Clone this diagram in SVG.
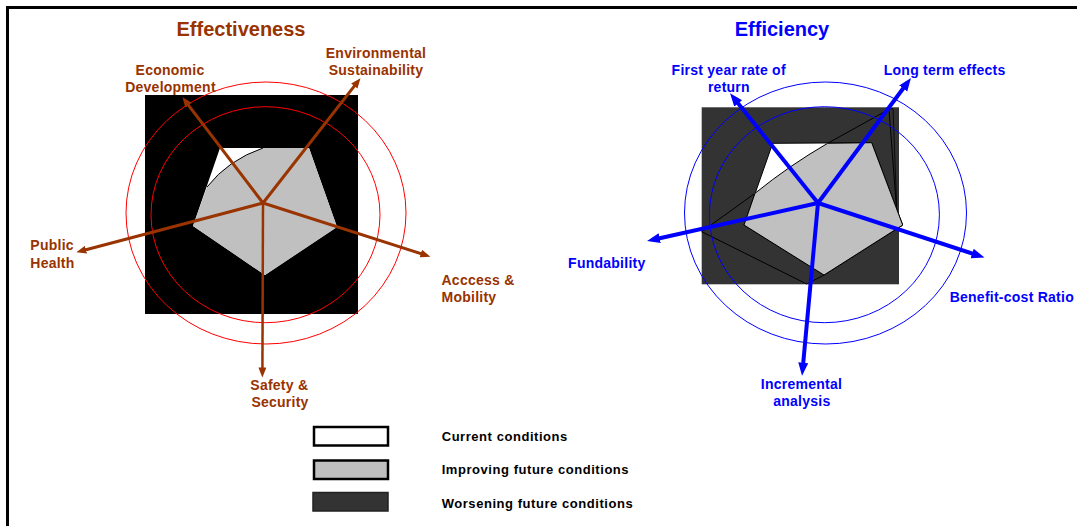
<svg xmlns="http://www.w3.org/2000/svg" width="1077" height="526" viewBox="0 0 1077 526">
<defs>
<style>
.t{font-family:"Liberation Sans",Arial,sans-serif;font-weight:bold}
.br{fill:#993300;font-size:14px;letter-spacing:0.25px}
.bl{fill:#0000ff;font-size:14px;letter-spacing:0.25px}
.ttl{font-size:20px}
.lg{fill:#000;font-size:13px;letter-spacing:0.55px}
.ax1{stroke:#993300;stroke-width:3;fill:none;marker-end:url(#ah1)}
.ax2{stroke:#0000ff;stroke-width:4;fill:none;marker-end:url(#ah2)}
.rc{fill:none;stroke:#ff0000;stroke-width:1}
.bc{fill:none;stroke:#0000ff;stroke-width:1}
.edge{stroke:#000;stroke-width:1}
</style>
<marker id="ah1" markerUnits="userSpaceOnUse" markerWidth="11" markerHeight="9" refX="5" refY="4" orient="auto" viewBox="0 0 11 9"><path d="M0,0 L10,4 L0,8 z" fill="#993300"/></marker>
<marker id="ah2" markerUnits="userSpaceOnUse" markerWidth="14" markerHeight="11" refX="7" refY="5" orient="auto" viewBox="0 0 14 11"><path d="M0,0 L13,5 L0,10 z" fill="#0000ff"/></marker>
</defs>
<rect x="0" y="0" width="1077" height="526" fill="#fff"/>
<rect x="7.5" y="7.5" width="1100" height="600" fill="none" stroke="#000" stroke-width="3"/>

<g id="effectiveness-chart">
<text class="t ttl" x="241" y="36" text-anchor="middle" fill="#993300">Effectiveness</text>
<rect x="145" y="95" width="213" height="219" fill="#000"/>
<polygon points="220,148 309,148 337,227 265,275 193,226" fill="#fff"/>
<path d="M263,148 L309,148 L337,227 L265,275 L193,226 L207,187 Q228,160 263,148 z" fill="#c0c0c0"/>
<path d="M207,187 Q228,160 263,148" class="edge" fill="none"/>
<ellipse class="rc" cx="266" cy="213" rx="140" ry="131"/>
<ellipse class="rc" cx="265.5" cy="214.7" rx="114.5" ry="108"/>
</g>

<g id="efficiency-chart">
<text class="t ttl" x="782" y="36" text-anchor="middle" fill="#0000ff">Efficiency</text>
<rect x="701.7" y="107.3" width="197.3" height="177" fill="#333"/>
<path d="M701.7,231.7 L755,193.3 Q790,165 827.7,143.3 L889,109.3 L897,215 L902.7,225 L824,275 L806.7,284 z" fill="#333" stroke="#000" stroke-width="1"/>
<path d="M889,109.3 L893,108.5 L897,215" fill="none" stroke="#000" stroke-width="0.8"/>
<polygon points="772.7,143.3 871.7,142.7 902.7,225 824,275 744,225" fill="#fff" class="edge"/>
<path d="M827.7,143.3 L871.7,142.7 L902.7,225 L824,275 L744,225 L755,193.3 Q790,165 827.7,143.3 z" fill="#c0c0c0" class="edge"/>
<ellipse class="bc" cx="825.5" cy="213" rx="141" ry="131"/>
<ellipse class="bc" cx="824.4" cy="214.7" rx="115" ry="108"/>
</g>

<g id="connectors">
<line class="ax1" x1="263" y1="203" x2="185.5" y2="101.3"/>
<line class="ax1" x1="263" y1="203" x2="357.4" y2="82.1"/>
<line class="ax1" x1="263" y1="203" x2="425.6" y2="255.1"/>
<line class="ax1" x1="263" y1="203" x2="262.4" y2="372.4" style="stroke-width:2.5"/>
<line class="ax1" x1="263" y1="203" x2="81.2" y2="251"/>
<line class="ax2" x1="818" y1="203" x2="733.8" y2="98"/>
<line class="ax2" x1="818" y1="203" x2="907.4" y2="82.8"/>
<line class="ax2" x1="818" y1="203" x2="978.8" y2="255.7"/>
<line class="ax2" x1="818" y1="203" x2="802.6" y2="369.7"/>
<line class="ax2" x1="818" y1="203" x2="652.9" y2="239.7"/>
</g>

<g id="label-economic">
<text class="t br" x="170" y="74.5" text-anchor="middle">Economic</text>
<text class="t br" x="170.5" y="91.6" text-anchor="middle">Development</text>
</g>
<g id="label-environmental">
<text class="t br" x="376" y="57.7" text-anchor="middle">Environmental</text>
<text class="t br" x="376" y="74.5" text-anchor="middle">Sustainability</text>
</g>
<g id="label-public">
<text class="t br" x="30.3" y="250">Public</text>
<text class="t br" x="30.3" y="268.4">Health</text>
</g>
<g id="label-access">
<text class="t br" x="441.5" y="284.5">Acccess &amp;</text>
<text class="t br" x="441.5" y="302">Mobility</text>
</g>
<g id="label-safety">
<text class="t br" x="250.3" y="390">Safety &amp;</text>
<text class="t br" x="251.4" y="407">Security</text>
</g>

<g id="label-firstyear">
<text class="t bl" x="728.7" y="74.5" text-anchor="middle">First year rate of</text>
<text class="t bl" x="728.9" y="91.6" text-anchor="middle">return</text>
</g>
<g id="label-longterm">
<text class="t bl" x="944.6" y="74.5" text-anchor="middle">Long term effects</text>
</g>
<g id="label-fundability">
<text class="t bl" x="606.8" y="268.4" text-anchor="middle">Fundability</text>
</g>
<g id="label-benefit">
<text class="t bl" x="1011.8" y="302" text-anchor="middle">Benefit-cost Ratio</text>
</g>
<g id="label-incremental">
<text class="t bl" x="801.5" y="389" text-anchor="middle">Incremental</text>
<text class="t bl" x="801.8" y="406" text-anchor="middle">analysis</text>
</g>

<g id="legend-current">
<rect x="314" y="427" width="74" height="18.5" fill="#fff" stroke="#000" stroke-width="2.5"/>
<text class="t lg" x="441.7" y="440.7">Current conditions</text>
</g>
<g id="legend-improving">
<rect x="314" y="460.5" width="74" height="18.5" fill="#c0c0c0" stroke="#000" stroke-width="2.5"/>
<text class="t lg" x="441.7" y="474.3">Improving future conditions</text>
</g>
<g id="legend-worsening">
<rect x="313" y="492.5" width="75" height="18.5" fill="#333" stroke="#222" stroke-width="1.5"/>
<text class="t lg" x="441.7" y="507.7">Worsening future conditions</text>
</g>
</svg>
